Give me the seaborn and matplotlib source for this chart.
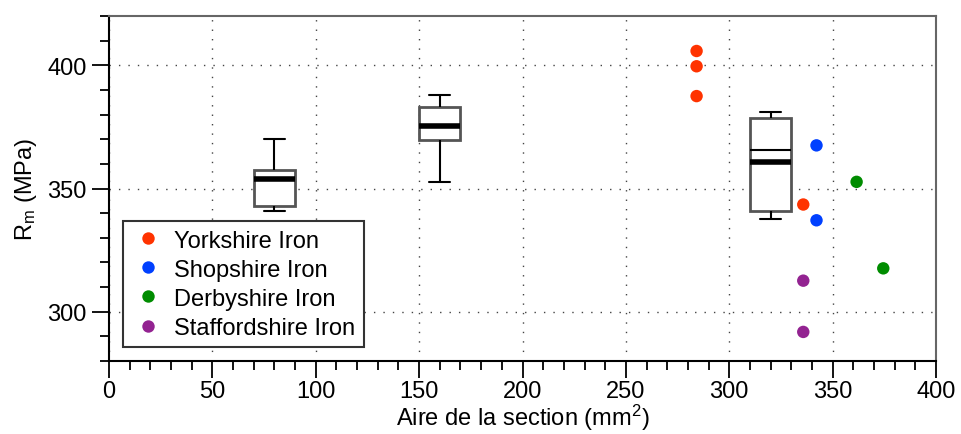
import pandas as pd
import numpy as np
import matplotlib
matplotlib.use("Agg")
import matplotlib.pyplot as plt
from matplotlib.ticker import MultipleLocator
import seaborn as sns

# === data ===
box_pos = [80, 160, 320]
rm_box_80 = [340.9, 342.9, 353.9, 357.7, 370.2]
rm_box_160 = [352.7, 369.6, 375.3, 383.2, 387.8]
rm_box_320 = [337.5, 341.0, 360.8, 378.8, 381.0]
box_320_line = 365.7  # thin extra line inside the third box

yorkshire_x = [284.2, 284.2, 284.2, 335.8]
yorkshire_rm = [405.8, 399.6, 387.5, 343.5]
shopshire_x = [342.2, 342.2]
shopshire_rm = [367.5, 337.1]
derbyshire_x = [361.6, 374.5]
derbyshire_rm = [352.7, 317.6]
staffordshire_x = [335.8, 335.8]
staffordshire_rm = [312.6, 291.8]

sources = ["Yorkshire Iron", "Shopshire Iron", "Derbyshire Iron", "Staffordshire Iron"]
colors = ["#ff3300", "#0040ff", "#008c00", "#932391"]

# === build tables ===
box_df = pd.DataFrame({
    "aire": [box_pos[0]] * len(rm_box_80) + [box_pos[1]] * len(rm_box_160)
            + [box_pos[2]] * len(rm_box_320),
    "rm": rm_box_80 + rm_box_160 + rm_box_320,
})

pts_df = pd.DataFrame({
    "aire": yorkshire_x + shopshire_x + derbyshire_x + staffordshire_x,
    "rm": yorkshire_rm + shopshire_rm + derbyshire_rm + staffordshire_rm,
    "source": [sources[0]] * len(yorkshire_x) + [sources[1]] * len(shopshire_x)
              + [sources[2]] * len(derbyshire_x) + [sources[3]] * len(staffordshire_x),
})

sns.set_style("white")
plt.rcParams["font.family"] = ["Liberation Sans", "DejaVu Sans"]
plt.rcParams["mathtext.default"] = "regular"
plt.rcParams["text.color"] = "black"
plt.rcParams["axes.labelcolor"] = "black"
plt.rcParams["xtick.color"] = "black"
plt.rcParams["ytick.color"] = "black"

fig = plt.figure(figsize=(9.62, 4.35), dpi=100)
ax = fig.add_axes([109 / 962, 1 - 362 / 435, 827 / 962, 345 / 435])

box_width = 0.25
sns.boxplot(data=box_df, x="aire", y="rm", native_scale=True, width=box_width,
            whis=(0, 100), color="white", linecolor="black", linewidth=1.5,
            boxprops=dict(edgecolor="#555555", linewidth=2),
            medianprops=dict(color="black", linewidth=4),
            ax=ax, zorder=2)

half = box_width * (box_pos[1] - box_pos[0]) / 2
ax.hlines(box_320_line, box_pos[2] - half, box_pos[2] + half,
          color="black", linewidth=1.5, zorder=3)

sns.scatterplot(data=pts_df, x="aire", y="rm", hue="source", hue_order=sources,
                palette=dict(zip(sources, colors)), s=80, edgecolor="none",
                ax=ax, zorder=4)

# === axes styling ===
ax.set_xlim(0, 400)
ax.set_ylim(280, 420)
ax.xaxis.set_major_locator(MultipleLocator(50))
ax.xaxis.set_minor_locator(MultipleLocator(10))
ax.yaxis.set_major_locator(MultipleLocator(50))
ax.yaxis.set_minor_locator(MultipleLocator(10))
ax.tick_params(which="major", direction="out", length=12, width=1.3,
               labelsize=17, color="black", labelcolor="black")
ax.tick_params(which="minor", direction="out", length=6.5, width=1.3, color="black")
ax.tick_params(axis="x", which="major", pad=1.5)
ax.tick_params(axis="y", which="major", pad=4)
ax.tick_params(left=True, bottom=True, which="both")

ax.set_axisbelow(True)
ax.grid(True, which="major", linestyle=(0, (1, 5.8)), color="#444444", linewidth=1)

for side in ["left", "bottom"]:
    ax.spines[side].set_color("black")
    ax.spines[side].set_linewidth(1.5)
for side in ["top", "right"]:
    ax.spines[side].set_visible(True)
    ax.spines[side].set_color("#666666")
    ax.spines[side].set_linewidth(1.5)

ax.set_xlabel("Aire de la section (mm$^2$)", fontsize=17, labelpad=0)
ax.set_ylabel("R$_m$ (MPa)", fontsize=17, labelpad=6)

handles, labels = ax.get_legend_handles_labels()
leg = ax.legend(handles, labels, loc="lower left", bbox_to_anchor=(0.0166, 0.0397),
                borderaxespad=0, frameon=True, fancybox=False, edgecolor="#333333",
                framealpha=1, fontsize=17, handlelength=1.42, handletextpad=0.4,
                borderpad=0.36, labelspacing=0.3)
leg.get_frame().set_linewidth(1.5)

plt.savefig("out.png", dpi=100)
